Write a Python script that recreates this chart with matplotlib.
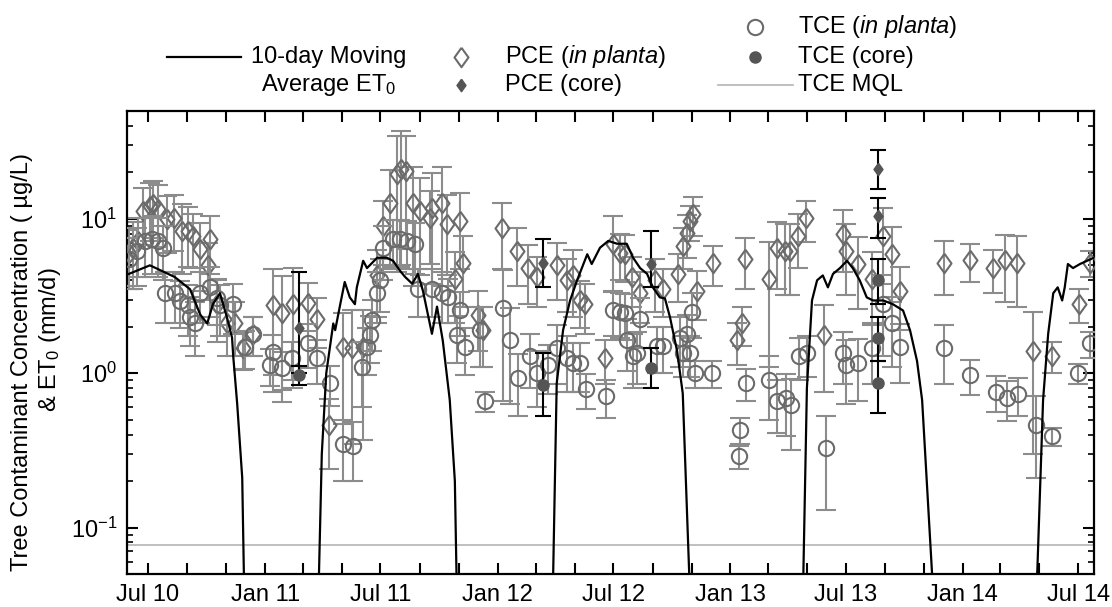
import matplotlib
matplotlib.use('Agg')
import matplotlib.pyplot as plt
import matplotlib.dates as mdates
from matplotlib.ticker import LogLocator, FuncFormatter, NullFormatter
import pandas as pd

plt.rcParams['font.family'] = ['Liberation Sans', 'DejaVu Sans']
plt.rcParams['mathtext.fontset'] = 'custom'
plt.rcParams['mathtext.rm'] = 'Liberation Sans'
plt.rcParams['mathtext.it'] = 'Liberation Sans:italic'
plt.rcParams['mathtext.default'] = 'regular'

# 10-day moving average ET0 (mm/d)
et_dates = ['2010-06-01', '2010-07-04', '2010-08-12', '2010-09-05', '2010-09-21', '2010-10-02',
            '2010-10-11', '2010-10-22', '2010-11-02', '2010-11-10', '2010-11-12', '2010-11-18',
            '2010-11-26', '2010-11-29', '2011-01-01',
            '2011-03-26', '2011-03-31', '2011-04-07', '2011-04-18', '2011-04-21', '2011-04-29',
            '2011-05-06', '2011-05-14', '2011-05-22', '2011-05-25', '2011-06-04', '2011-06-10',
            '2011-06-26', '2011-07-11', '2011-07-21', '2011-08-01', '2011-08-09', '2011-08-20',
            '2011-08-29', '2011-09-06', '2011-09-20', '2011-09-28', '2011-10-07', '2011-10-18',
            '2011-10-26', '2011-10-29', '2012-01-01',
            '2012-03-28', '2012-04-03', '2012-04-13', '2012-04-24', '2012-05-05', '2012-05-21',
            '2012-05-28', '2012-06-10', '2012-06-23', '2012-07-07', '2012-07-22', '2012-08-01',
            '2012-08-12', '2012-08-23', '2012-09-01', '2012-09-12', '2012-09-20', '2012-09-28',
            '2012-10-09', '2012-10-18', '2012-10-29', '2013-01-01',
            '2013-04-25', '2013-05-01', '2013-05-09', '2013-05-17', '2013-05-26', '2013-06-03',
            '2013-06-11', '2013-06-22', '2013-07-03', '2013-07-12', '2013-07-23', '2013-08-03',
            '2013-08-13', '2013-08-29', '2013-09-13', '2013-09-29', '2013-10-10', '2013-10-21',
            '2013-10-29', '2013-11-15', '2014-01-01',
            '2014-04-27', '2014-05-07', '2014-05-15', '2014-05-23', '2014-05-30', '2014-06-06',
            '2014-06-10', '2014-06-15', '2014-06-23', '2014-07-04', '2014-07-15', '2014-07-26']
et_vals = [4.4, 5.0, 4.2, 3.5, 2.4, 2.1,
           2.8, 3.3, 2.3, 1.7, 1.27, 0.64,
           0.21, 0.04, 0.01,
           0.04, 0.3, 1.0, 2.1, 1.9, 2.8,
           3.9, 3.1, 2.8, 3.6, 5.35, 4.8,
           5.6, 5.6, 5.35, 4.6, 4.2, 3.8,
           4.4, 3.4, 1.8, 2.7, 1.63, 0.67,
           0.2, 0.04, 0.01,
           0.04, 0.86, 1.9, 2.96, 4.0, 5.9,
           5.1, 6.5, 7.2, 6.9, 6.9, 5.6,
           4.8, 4.4, 3.6, 3.1, 3.05, 2.3,
           1.4, 0.74, 0.04, 0.01,
           0.04, 0.8, 2.96, 4.0, 4.3, 3.6,
           4.4, 4.8, 5.35, 4.8, 4.0, 3.1,
           2.96, 2.96, 2.8, 2.55, 1.9, 1.2,
           0.67, 0.04, 0.01,
           0.04, 0.67, 1.8, 3.3, 3.6, 2.96,
           3.6, 5.1, 4.8, 5.1, 5.35, 5.6]

# PCE in planta (ug/L) with error
pce_dates = ['2010-06-01', '2010-06-07', '2010-06-15', '2010-06-23', '2010-07-04', '2010-07-09',
             '2010-07-17', '2010-07-31', '2010-08-11', '2010-08-23', '2010-09-02', '2010-09-10',
             '2010-09-21', '2010-10-03', '2010-10-06', '2010-10-17', '2010-11-02', '2010-11-15',
             '2010-11-27', '2010-12-13', '2011-01-13', '2011-01-27', '2011-02-14', '2011-03-09',
             '2011-03-23', '2011-04-11', '2011-05-03', '2011-05-17', '2011-06-04', '2011-06-26',
             '2011-07-05', '2011-07-16', '2011-07-27', '2011-08-03', '2011-08-10', '2011-08-21',
             '2011-09-01', '2011-09-17', '2011-09-20', '2011-10-06', '2011-10-14', '2011-10-26',
             '2011-11-03', '2011-11-08', '2011-12-01', '2011-12-09', '2012-01-08', '2012-02-01',
             '2012-02-18', '2012-03-03', '2012-04-03', '2012-04-19', '2012-04-29', '2012-05-10',
             '2012-05-17', '2012-06-18', '2012-06-30', '2012-07-11', '2012-07-19', '2012-07-30',
             '2012-08-12', '2012-09-04', '2012-09-17', '2012-10-11', '2012-10-18', '2012-10-25',
             '2012-10-29', '2012-11-03', '2012-11-09', '2012-12-05', '2013-01-11', '2013-01-19',
             '2013-01-24', '2013-03-02', '2013-03-15', '2013-03-28', '2013-04-04', '2013-04-17',
             '2013-04-30', '2013-05-28', '2013-06-27', '2013-07-01', '2013-07-20', '2013-08-11',
             '2013-08-29', '2013-09-12', '2013-09-24', '2013-12-02', '2014-01-12', '2014-02-17',
             '2014-03-08', '2014-03-27', '2014-04-21', '2014-05-21', '2014-07-02', '2014-07-20']
pce_vals = [6.0, 6.5, 7.2, 11.3, 12.2, 12.5,
            11.6, 10.0, 10.2, 8.4, 8.4, 7.8,
            6.4, 5.0, 7.4, 2.8, 2.1, 2.1,
            1.45, 1.8, 2.75, 2.45, 2.8, 2.87,
            2.26, 0.46, 1.47, 1.45, 1.47, 4.3,
            9.0, 12.7, 19.5, 21.0, 20.4, 12.7,
            11.3, 10.1, 11.8, 12.7, 9.3, 4.1,
            9.7, 5.2, 2.4, 1.9, 8.7, 6.2,
            4.8, 4.2, 5.0, 4.0, 4.3, 2.96,
            2.8, 1.25, 6.9, 6.0, 5.9, 4.2,
            3.3, 4.0, 3.5, 4.4, 6.7, 8.1,
            9.7, 10.8, 3.4, 5.2, 1.63, 2.1,
            5.5, 4.1, 6.5, 6.2, 6.2, 7.8,
            10.1, 1.76, 8.0, 6.2, 5.1, 4.1,
            7.8, 5.9, 3.4, 5.2, 5.4, 4.8,
            5.4, 5.2, 1.4, 1.3, 2.8, 5.2]
pce_err = [2.5, 3.0, 3.0, 4.5, 5.0, 5.0,
           5.0, 4.0, 4.0, 4.0, 3.5, 3.0,
           3.0, 2.0, 3.0, 1.2, 0.8, 0.8,
           0.4, 0.5, 2.0, 1.8, 2.0, 1.0,
           0.8, 0.22, 1.0, 1.1, 1.1, 2.0,
           4.0, 8.0, 15.0, 16.0, 14.0, 9.0,
           7.0, 5.0, 8.0, 9.0, 5.0, 2.0,
           5.0, 2.5, 1.0, 0.8, 4.0, 2.5,
           2.0, 1.5, 2.0, 1.5, 2.0, 1.0,
           1.0, 0.4, 3.5, 2.0, 2.0, 1.5,
           1.2, 1.5, 1.2, 1.5, 2.0, 2.5,
           2.5, 3.0, 1.2, 1.5, 0.5, 0.6,
           2.0, 3.0, 3.0, 3.0, 3.0, 3.0,
           3.0, 1.0, 3.5, 3.0, 2.5, 2.0,
           4.0, 3.0, 1.5, 2.0, 1.5, 1.5,
           2.5, 2.5, 1.1, 0.3, 0.7, 1.0]

# TCE in planta (ug/L) with error
tce_dates = ['2010-06-01', '2010-06-14', '2010-06-26', '2010-07-07', '2010-07-17', '2010-07-25',
             '2010-07-28', '2010-08-12', '2010-08-20', '2010-09-02', '2010-09-05', '2010-09-13',
             '2010-09-21', '2010-10-06', '2010-10-17', '2010-10-22', '2010-11-11', '2010-11-30',
             '2010-12-13', '2011-01-08', '2011-01-13', '2011-01-27', '2011-02-12', '2011-03-09',
             '2011-03-23', '2011-04-13', '2011-05-03', '2011-05-19', '2011-06-02', '2011-06-10',
             '2011-06-15', '2011-06-18', '2011-06-26', '2011-06-30', '2011-07-05', '2011-07-21',
             '2011-08-01', '2011-08-12', '2011-08-24', '2011-08-29', '2011-09-20', '2011-10-06',
             '2011-10-15', '2011-10-29', '2011-11-03', '2011-11-11', '2011-12-04', '2011-12-12',
             '2012-01-10', '2012-01-20', '2012-02-02', '2012-02-21', '2012-03-03', '2012-03-20',
             '2012-04-03', '2012-04-19', '2012-04-28', '2012-05-09', '2012-05-19', '2012-06-19',
             '2012-06-30', '2012-07-11', '2012-07-19', '2012-07-22', '2012-08-01', '2012-08-07',
             '2012-08-12', '2012-09-08', '2012-09-17', '2012-10-14', '2012-10-18', '2012-10-25',
             '2012-10-29', '2012-11-01', '2012-11-06', '2012-12-03', '2013-01-14', '2013-01-16',
             '2013-01-25', '2013-03-02', '2013-03-15', '2013-03-29', '2013-04-06', '2013-04-19',
             '2013-05-01', '2013-05-31', '2013-06-27', '2013-07-01', '2013-07-20', '2013-08-11',
             '2013-08-28', '2013-09-11', '2013-09-24', '2013-12-02', '2014-01-12', '2014-02-22',
             '2014-03-11', '2014-03-29', '2014-04-26', '2014-05-21', '2014-07-01', '2014-07-20']
tce_vals = [5.5, 6.2, 7.2, 7.4, 7.2, 6.5,
            3.3, 3.3, 2.95, 2.75, 2.3, 2.1,
            3.3, 3.6, 3.05, 2.75, 2.8, 1.47,
            1.8, 1.13, 1.37, 1.08, 1.25, 1.58,
            1.25, 0.86, 0.35, 0.34, 1.1, 1.47,
            1.76, 2.2, 3.3, 4.0, 6.5, 7.4,
            7.4, 7.2, 6.9, 3.5, 3.5, 3.3,
            3.1, 1.76, 2.55, 1.47, 1.9, 0.66,
            2.66, 1.63, 0.93, 1.3, 1.0, 1.13,
            1.45, 1.25, 1.16, 1.16, 0.79, 0.71,
            2.55, 2.5, 2.45, 1.63, 1.3, 1.35,
            2.26, 1.5, 1.5, 1.7, 1.35, 1.8,
            1.35, 2.5, 1.0, 1.0, 0.29, 0.43,
            0.86, 0.9, 0.66, 0.69, 0.62, 1.3,
            1.35, 0.33, 1.35, 1.13, 1.16, 1.45,
            2.8, 2.1, 1.47, 1.45, 0.97, 0.76,
            0.69, 0.73, 0.46, 0.39, 1.0, 1.56]
tce_err = [2.0, 2.5, 3.0, 3.0, 3.0, 2.5,
           1.2, 1.2, 1.0, 1.0, 0.8, 0.8,
           1.2, 1.3, 1.0, 1.0, 1.0, 0.4,
           0.5, 0.3, 0.4, 0.3, 0.35, 0.5,
           0.4, 0.25, 0.15, 0.14, 0.5, 0.5,
           0.6, 0.8, 1.2, 1.5, 2.5, 2.5,
           2.5, 2.5, 2.5, 1.2, 1.2, 1.2,
           1.0, 0.6, 0.8, 0.5, 0.8, 0.1,
           2.0, 1.0, 0.4, 0.5, 0.4, 0.4,
           0.6, 0.5, 0.4, 0.4, 0.2, 0.2,
           0.8, 0.8, 0.8, 0.6, 0.5, 0.5,
           0.8, 0.5, 0.5, 0.6, 0.4, 0.6,
           0.4, 0.8, 0.2, 0.2, 0.05, 0.08,
           0.2, 0.4, 0.25, 0.3, 0.3, 0.4,
           0.4, 0.2, 0.5, 0.5, 0.5, 0.6,
           1.5, 1.0, 0.6, 0.6, 0.25, 0.2,
           0.2, 0.2, 0.25, 0.05, 0.15, 0.3]

# core samples: value with lower / upper bar ends
pce_core_dates = ['2011-02-23', '2012-03-13', '2012-08-29', '2013-08-21', '2013-08-21']
pce_core_vals = [1.95, 5.2, 5.1, 21.0, 10.5]
pce_core_lo = [1.0, 3.6, 3.6, 15.6, 7.5]
pce_core_hi = [4.5, 7.4, 8.4, 28.0, 13.7]

tce_core_dates = ['2011-02-23', '2012-03-13', '2012-08-29', '2013-08-21', '2013-08-21', '2013-08-21']
tce_core_vals = [0.97, 0.84, 1.08, 4.0, 1.7, 0.87]
tce_core_lo = [0.84, 0.53, 0.8, 2.8, 1.2, 0.55]
tce_core_hi = [1.12, 1.35, 1.45, 5.5, 2.3, 1.2]

tce_mql = 0.077

W, H = 1112, 607
fig = plt.figure(figsize=(W / 100, H / 100), dpi=100)
ax = fig.add_axes([127 / W, 1 - 574 / H, (1094 - 127) / W, (574 - 111) / H])

mk_col = '#6b6b6b'
err_col = '#8c8c8c'
core_col = '#555555'
# diamond a bit narrower than a square, like the original
diam = [(0, 1), (0.72, 0), (0, -1), (-0.72, 0), (0, 1)]

ax.axhline(tce_mql, color='#b4b4b4', lw=1.2, zorder=1)

ax.errorbar(pd.to_datetime(pce_dates), pce_vals, yerr=pce_err, fmt='none',
            ecolor=err_col, elinewidth=1.5, capsize=7, capthick=1.5, zorder=2)
ax.plot(pd.to_datetime(pce_dates), pce_vals, ls='none', marker=diam, ms=14,
        mfc='none', mec=mk_col, mew=1.5, zorder=3)
ax.errorbar(pd.to_datetime(tce_dates), tce_vals, yerr=tce_err, fmt='o', ms=11,
            mfc='none', mec=mk_col, mew=1.5, ecolor=err_col, elinewidth=1.5,
            capsize=7, capthick=1.5, zorder=3)

pv = pd.Series(pce_core_vals)
pe = [pv - pd.Series(pce_core_lo), pd.Series(pce_core_hi) - pv]
ax.errorbar(pd.to_datetime(pce_core_dates), pce_core_vals, yerr=pe, fmt='none',
            ecolor='black', elinewidth=1.5, capsize=6, capthick=1.5, zorder=4)
ax.plot(pd.to_datetime(pce_core_dates), pce_core_vals, ls='none', marker=diam, ms=9,
        mfc=core_col, mec=core_col, zorder=4)
tv = pd.Series(tce_core_vals)
te = [tv - pd.Series(tce_core_lo), pd.Series(tce_core_hi) - tv]
ax.errorbar(pd.to_datetime(tce_core_dates), tce_core_vals, yerr=te, fmt='o', ms=8,
            mfc=core_col, mec=core_col, ecolor='black', elinewidth=1.5,
            capsize=6, capthick=1.5, zorder=4)

ax.plot(pd.to_datetime(et_dates), et_vals, color='black', lw=1.6, zorder=5)

ax.set_yscale('log')
ax.set_ylim(0.05, 50)
ax.set_xlim(pd.Timestamp('2010-05-29'), pd.Timestamp('2014-07-26'))

ax.yaxis.set_major_locator(LogLocator(base=10, numticks=10))
ax.yaxis.set_minor_locator(LogLocator(base=10, subs=range(2, 10), numticks=20))
ax.yaxis.set_minor_formatter(NullFormatter())

ax.xaxis.set_major_locator(mdates.MonthLocator(bymonth=[1, 3, 5, 7, 9, 11]))
def month_lbl(x, pos):
    d = mdates.num2date(x)
    return d.strftime('%b %y') if d.month in (1, 7) else ''
ax.xaxis.set_major_formatter(FuncFormatter(month_lbl))

ax.tick_params(which='both', direction='in', top=True, right=True, labelsize=17)
ax.tick_params(which='major', length=8, width=1.5, pad=7)
ax.tick_params(which='minor', length=4, width=1.2)
for s in ax.spines.values():
    s.set_linewidth(1.6)

fig.text(22 / W, 1 - 362 / H, 'Tree Contaminant Concentration ( \u00b5g/L)', rotation=90,
         ha='center', va='center', fontsize=17)
fig.text(50 / W, 1 - 340 / H, '& ET$_0$ (mm/d)', rotation=90,
         ha='center', va='center', fontsize=17)

# legend drawn in figure pixel space
lax = fig.add_axes([0, 0, 1, 1])
lax.set_xlim(0, W)
lax.set_ylim(H, 0)
lax.axis('off')
fs = 17
lax.plot([167, 241], [57, 57], color='black', lw=1.6)
lax.text(329, 57, '10-day Moving', ha='center', va='center', fontsize=fs)
lax.text(329, 85, 'Average ET$_0$', ha='center', va='center', fontsize=fs)
lax.plot([461], [57], ls='none', marker=diam, ms=14, mfc='none', mec=mk_col, mew=1.5)
lax.text(505, 57, 'PCE ($\\mathit{in\\ planta}$)', ha='left', va='center', fontsize=fs)
lax.plot([461], [85], ls='none', marker=diam, ms=9, mfc=core_col, mec=core_col)
lax.text(505, 85, 'PCE (core)', ha='left', va='center', fontsize=fs)
lax.plot([755], [27], 'o', ms=11, mfc='none', mec=mk_col, mew=1.5)
lax.text(798, 27, 'TCE ($\\mathit{in\\ planta}$)', ha='left', va='center', fontsize=fs)
lax.plot([755], [57], 'o', ms=8, mfc=core_col, mec=core_col)
lax.text(798, 57, 'TCE (core)', ha='left', va='center', fontsize=fs)
lax.plot([718, 793], [85, 85], color='#b4b4b4', lw=1.2)
lax.text(798, 85, 'TCE MQL', ha='left', va='center', fontsize=fs)

fig.savefig('out.png', dpi=100)
